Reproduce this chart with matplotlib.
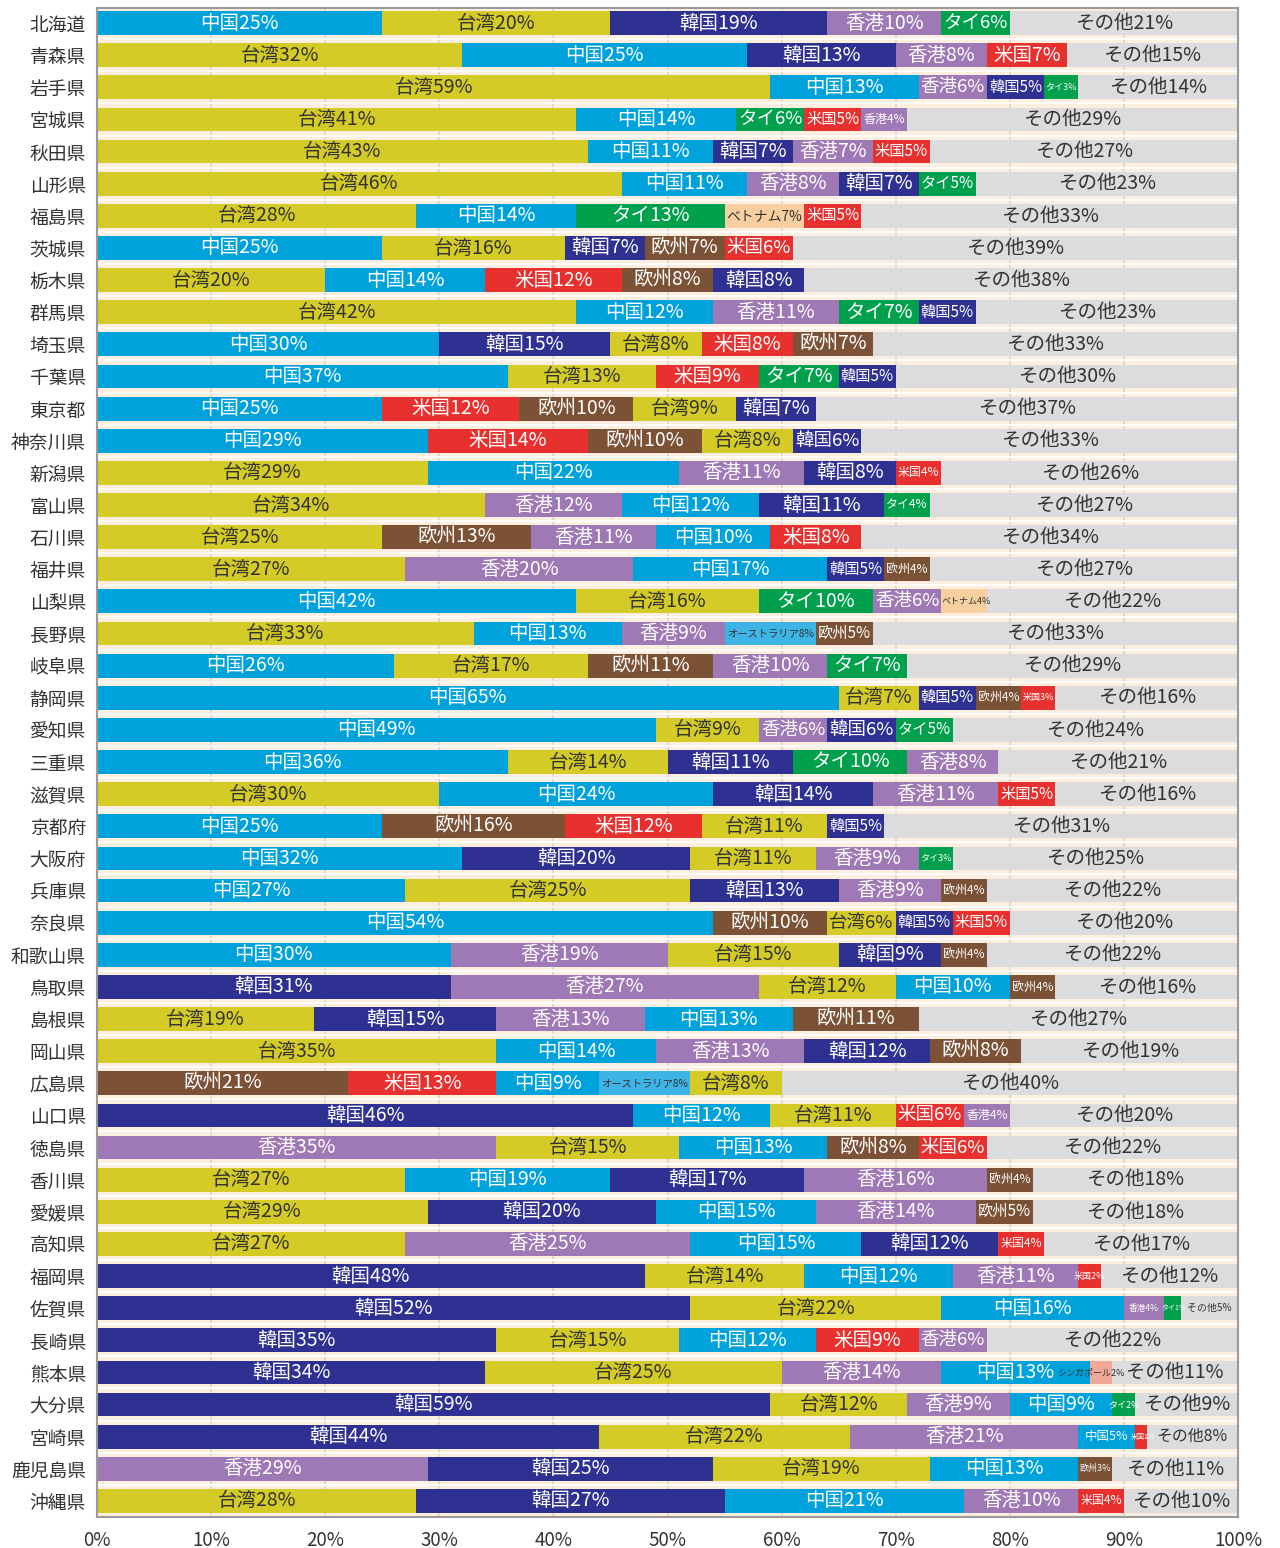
import matplotlib.pyplot as plt

plt.rcParams['font.family'] = ['Noto Sans CJK JP', 'DejaVu Sans']

prefs = ["北海道", "青森県", "岩手県", "宮城県", "秋田県", "山形県", "福島県", "茨城県",
         "栃木県", "群馬県", "埼玉県", "千葉県", "東京都", "神奈川県", "新潟県", "富山県",
         "石川県", "福井県", "山梨県", "長野県", "岐阜県", "静岡県", "愛知県", "三重県",
         "滋賀県", "京都府", "大阪府", "兵庫県", "奈良県", "和歌山県", "鳥取県", "島根県",
         "岡山県", "広島県", "山口県", "徳島県", "香川県", "愛媛県", "高知県", "福岡県",
         "佐賀県", "長崎県", "熊本県", "大分県", "宮崎県", "鹿児島県", "沖縄県"]

# 上位5か国・地域
top5 = [
    ["中国", "台湾", "韓国", "香港", "タイ"],
    ["台湾", "中国", "韓国", "香港", "米国"],
    ["台湾", "中国", "香港", "韓国", "タイ"],
    ["台湾", "中国", "タイ", "米国", "香港"],
    ["台湾", "中国", "韓国", "香港", "米国"],
    ["台湾", "中国", "香港", "韓国", "タイ"],
    ["台湾", "中国", "タイ", "ベトナム", "米国"],
    ["中国", "台湾", "韓国", "欧州", "米国"],
    ["台湾", "中国", "米国", "欧州", "韓国"],
    ["台湾", "中国", "香港", "タイ", "韓国"],
    ["中国", "韓国", "台湾", "米国", "欧州"],
    ["中国", "台湾", "米国", "タイ", "韓国"],
    ["中国", "米国", "欧州", "台湾", "韓国"],
    ["中国", "米国", "欧州", "台湾", "韓国"],
    ["台湾", "中国", "香港", "韓国", "米国"],
    ["台湾", "香港", "中国", "韓国", "タイ"],
    ["台湾", "欧州", "香港", "中国", "米国"],
    ["台湾", "香港", "中国", "韓国", "欧州"],
    ["中国", "台湾", "タイ", "香港", "ベトナム"],
    ["台湾", "中国", "香港", "オーストラリア", "欧州"],
    ["中国", "台湾", "欧州", "香港", "タイ"],
    ["中国", "台湾", "韓国", "欧州", "米国"],
    ["中国", "台湾", "香港", "韓国", "タイ"],
    ["中国", "台湾", "韓国", "タイ", "香港"],
    ["台湾", "中国", "韓国", "香港", "米国"],
    ["中国", "欧州", "米国", "台湾", "韓国"],
    ["中国", "韓国", "台湾", "香港", "タイ"],
    ["中国", "台湾", "韓国", "香港", "欧州"],
    ["中国", "欧州", "台湾", "韓国", "米国"],
    ["中国", "香港", "台湾", "韓国", "欧州"],
    ["韓国", "香港", "台湾", "中国", "欧州"],
    ["台湾", "韓国", "香港", "中国", "欧州"],
    ["台湾", "中国", "香港", "韓国", "欧州"],
    ["欧州", "米国", "中国", "オーストラリア", "台湾"],
    ["韓国", "中国", "台湾", "米国", "香港"],
    ["香港", "台湾", "中国", "欧州", "米国"],
    ["台湾", "中国", "韓国", "香港", "欧州"],
    ["台湾", "韓国", "中国", "香港", "欧州"],
    ["台湾", "香港", "中国", "韓国", "米国"],
    ["韓国", "台湾", "中国", "香港", "米国"],
    ["韓国", "台湾", "中国", "香港", "タイ"],
    ["韓国", "台湾", "中国", "米国", "香港"],
    ["韓国", "台湾", "香港", "中国", "シンガポール"],
    ["韓国", "台湾", "香港", "中国", "タイ"],
    ["韓国", "台湾", "香港", "中国", "米国"],
    ["香港", "韓国", "台湾", "中国", "欧州"],
    ["台湾", "韓国", "中国", "香港", "米国"],
]

# ラベルの数値(%)
shares = [
    [25, 20, 19, 10, 6], [32, 25, 13, 8, 7], [59, 13, 6, 5, 3], [41, 14, 6, 5, 4],
    [43, 11, 7, 7, 5], [46, 11, 8, 7, 5], [28, 14, 13, 7, 5], [25, 16, 7, 7, 6],
    [20, 14, 12, 8, 8], [42, 12, 11, 7, 5], [30, 15, 8, 8, 7], [37, 13, 9, 7, 5],
    [25, 12, 10, 9, 7], [29, 14, 10, 8, 6], [29, 22, 11, 8, 4], [34, 12, 12, 11, 4],
    [25, 13, 11, 10, 8], [27, 20, 17, 5, 4], [42, 16, 10, 6, 4], [33, 13, 9, 8, 5],
    [26, 17, 11, 10, 7], [65, 7, 5, 4, 3], [49, 9, 6, 6, 5], [36, 14, 11, 10, 8],
    [30, 24, 14, 11, 5], [25, 16, 12, 11, 5], [32, 20, 11, 9, 3], [27, 25, 13, 9, 4],
    [54, 10, 6, 5, 5], [30, 19, 15, 9, 4], [31, 27, 12, 10, 4], [19, 15, 13, 13, 11],
    [35, 14, 13, 12, 8], [21, 13, 9, 8, 8], [46, 12, 11, 6, 4], [35, 15, 13, 8, 6],
    [27, 19, 17, 16, 4], [29, 20, 15, 14, 5], [27, 25, 15, 12, 4], [48, 14, 12, 11, 2],
    [52, 22, 16, 4, 1], [35, 15, 12, 9, 6], [34, 25, 14, 13, 2], [59, 12, 9, 9, 2],
    [44, 22, 21, 5, 1], [29, 25, 19, 13, 3], [28, 27, 21, 10, 4],
]

# 棒の長さ(%) 図から読み取り
widths = [
    [25, 20, 19, 10, 6], [32, 25, 13, 8, 7], [59, 13, 6, 5, 3], [42, 14, 6, 5, 4],
    [43, 11, 7, 7, 5], [46, 11, 8, 7, 5], [28, 14, 13, 7, 5], [25, 16, 7, 7, 6],
    [20, 14, 12, 8, 8], [42, 12, 11, 7, 5], [30, 15, 8, 8, 7], [36, 13, 9, 7, 5],
    [25, 12, 10, 9, 7], [29, 14, 10, 8, 6], [29, 22, 11, 8, 4], [34, 12, 12, 11, 4],
    [25, 13, 11, 10, 8], [27, 20, 17, 5, 4], [42, 16, 10, 6, 4], [33, 13, 9, 8, 5],
    [26, 17, 11, 10, 7], [65, 7, 5, 4, 3], [49, 9, 6, 6, 5], [36, 14, 11, 10, 8],
    [30, 24, 14, 11, 5], [25, 16, 12, 11, 5], [32, 20, 11, 9, 3], [27, 25, 13, 9, 4],
    [54, 10, 6, 5, 5], [31, 19, 15, 9, 4], [31, 27, 12, 10, 4], [19, 16, 13, 13, 11],
    [35, 14, 13, 11, 8], [22, 13, 9, 8, 8], [47, 12, 11, 6, 4], [35, 16, 13, 8, 6],
    [27, 18, 17, 16, 4], [29, 20, 14, 14, 5], [27, 25, 15, 12, 4], [48, 14, 13, 11, 2],
    [52, 22, 16, 3.5, 1.5], [35, 16, 12, 9, 6], [34, 26, 14, 13, 2], [59, 12, 9, 9, 2],
    [44, 22, 20, 5, 1], [29, 25, 19, 13, 3], [28, 27, 21, 10, 4],
]

others = [21, 15, 14, 29, 27, 23, 33, 39, 38, 23, 33, 30, 37, 33, 26, 27, 34, 27, 22, 33,
          29, 16, 24, 21, 16, 31, 25, 22, 20, 22, 16, 27, 19, 40, 20, 22, 18, 18, 17, 12,
          5, 22, 11, 9, 8, 11, 10]

colors = {
    "中国": "#00a2dc", "台湾": "#d4cb26", "韓国": "#2e3192", "香港": "#9f79b5",
    "タイ": "#00a04c", "米国": "#e8312f", "欧州": "#7b5236", "ベトナム": "#f7cfa0",
    "オーストラリア": "#3db4e5", "シンガポール": "#f0a898", "その他": "#dcdcdf",
}
dark_text = {"台湾", "ベトナム", "オーストラリア", "シンガポール", "その他"}

W, H = 1280, 1548
fig = plt.figure(figsize=(W / 100, H / 100), dpi=100)
ax_l, ax_r, ax_t, ax_b = 97, 1238, 8, 1517
ax = fig.add_axes([ax_l / W, 1 - ax_b / H, (ax_r - ax_l) / W, (ax_b - ax_t) / H])
ax.set_facecolor('#fcefe0')
ax.set_xlim(0, 100)
ax.set_ylim(46.5, -0.47)

ppp = (ax_r - ax_l) / 100  # 1% あたりのピクセル
renderer = fig.canvas.get_renderer()
base_fs = 14
min_fs = 6.5


def label_row(y, segs):
    # segs: (left, width, text, name)。狭い区間は文字を縮小し、はみ出す分は隣を縮める
    n = len(segs)
    texts, full = [], []
    for left, w, text, name in segs:
        col = '#333333' if name in dark_text else 'white'
        t = ax.text(left + w / 2, y, text, ha='center', va='center', fontsize=base_fs,
                    color=col, zorder=4)
        texts.append(t)
        full.append(t.get_window_extent(renderer).width)
    seg_w = [w * ppp for _, w, _, _ in segs]
    cx = [(left + w / 2) * ppp for left, w, _, _ in segs]
    size = [min(base_fs, base_fs * (seg_w[j] - 4) / full[j]) for j in range(n)]

    def tw(k):
        return full[k] * size[k] / base_fs

    def bounds(j):
        lo = cx[j - 1] + tw(j - 1) / 2 + 2 if j > 0 else cx[j] - seg_w[j] / 2
        hi = cx[j + 1] - tw(j + 1) / 2 - 2 if j < n - 1 else cx[j] + seg_w[j] / 2
        return lo, hi

    for j in range(n):
        if size[j] >= min_fs:
            continue
        tf = min_fs
        nb = [k for k in (j - 1, j + 1) if 0 <= k < n]
        while True:
            nw = full[j] * tf / base_fs
            lo, hi = bounds(j)
            d = nw - (hi - lo)
            if d <= 0:
                break
            f = 1 - 2 * d / sum(tw(k) for k in nb)
            if f >= 0.85 or tf <= 5:
                for k in nb:
                    size[k] *= f
                break
            tf -= 0.25
        size[j] = tf
        nw = full[j] * tf / base_fs
        lo, hi = bounds(j)
        if hi - lo <= nw:
            cx[j] = (lo + hi) / 2
        else:
            cx[j] = min(max(cx[j], lo + nw / 2), hi - nw / 2)

    for j in range(n):
        texts[j].set_fontsize(size[j])
        texts[j].set_x(cx[j] / ppp)


for i in range(len(prefs)):
    left = 0
    segs = []
    for name, w, v in zip(top5[i], widths[i], shares[i]):
        ax.barh(i, w, left=left, height=0.74, color=colors[name], zorder=3)
        segs.append((left, w, f"{name}{v}%", name))
        left += w
    rest = 100 - left
    ax.barh(i, rest, left=left, height=0.74, color=colors["その他"], zorder=3)
    segs.append((left, rest, f"その他{others[i]}%", "その他"))
    label_row(i, segs)

for i in range(len(prefs) - 1):
    ax.axhline(i + 0.5, color='white', lw=1.3, zorder=1)

ax.set_xticks(range(0, 101, 10))
ax.set_xticklabels([f"{x}%" for x in range(0, 101, 10)])
ax.set_yticks(range(len(prefs)))
ax.set_yticklabels(prefs)
ax.grid(axis='x', color='#d6d6d6', lw=1.2, zorder=2)
ax.set_axisbelow(True)
ax.tick_params(axis='both', length=0, labelsize=13.5, colors='#333333')
ax.tick_params(axis='x', pad=9)
ax.tick_params(axis='y', pad=8)
for s in ax.spines.values():
    s.set_color('#9a9a9a')
    s.set_linewidth(1.5)
    s.set_zorder(5)

fig.savefig('out.png', dpi=100)
